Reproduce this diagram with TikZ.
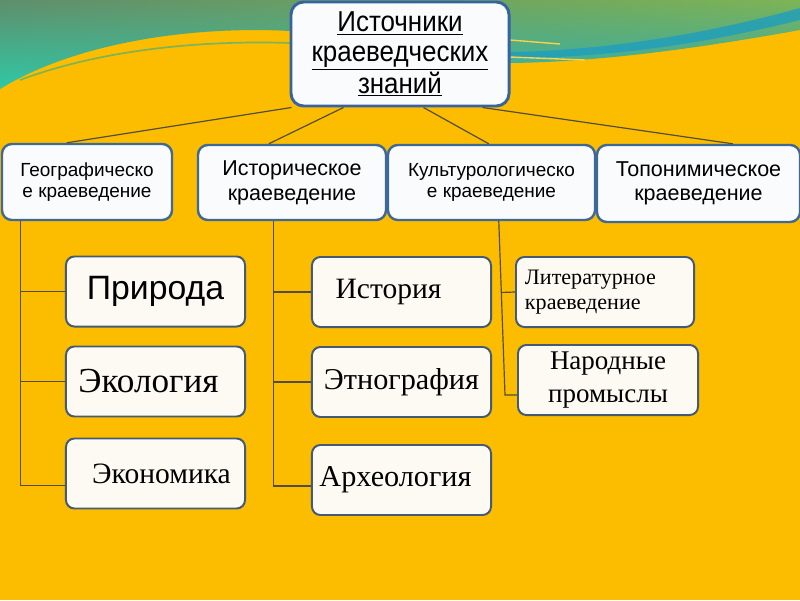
\documentclass[tikz,border=0pt]{standalone}
\usepackage{fontspec}
\setmainfont{Liberation Serif}
\setsansfont{Liberation Sans}
\newfontfamily\narrowsans[FakeStretch=0.9]{Liberation Sans}
\usetikzlibrary{positioning, calc, shadings}

\definecolor{bgorange}{RGB}{252,188,0}
\definecolor{bandUL}{RGB}{95,142,108}
\definecolor{bandLL}{RGB}{48,200,165}
\definecolor{bandUR}{RGB}{125,180,85}
\definecolor{bandLR}{RGB}{45,170,180}
\definecolor{streak}{RGB}{30,158,190}
\definecolor{srcedge}{RGB}{55,100,160}
\definecolor{secedge}{RGB}{62,105,148}
\definecolor{leafedge}{RGB}{68,92,115}
\definecolor{leaffill}{RGB}{252,250,242}
\definecolor{secfill}{RGB}{249,251,252}
\definecolor{linkcol}{RGB}{82,78,52}

\begin{document}
\begin{tikzpicture}[
  x=0.025cm, y=-0.025cm,
  every node/.style={font=\sffamily, text=black},
  src/.style    = {draw=srcedge, fill=secfill, line width=2.1pt, rounded corners=9pt, align=center,
                   minimum width=5.45cm, minimum height=2.6cm, inner sep=0pt,
                   font={\narrowsans\fontsize{20.5pt}{21.3pt}\selectfont}},
  sect/.style   = {draw=secedge, fill=secfill, line width=1.7pt, rounded corners=7pt, align=center,
                   minimum height=1.9cm, inner sep=0pt},
  leaf/.style   = {draw=leafedge, fill=leaffill, line width=1.4pt, rounded corners=6pt, align=center,
                   minimum width=4.475cm, minimum height=1.75cm, inner sep=0pt},
  link/.style   = {draw=linkcol, line width=0.85pt},
]
  \useasboundingbox (0,0) rectangle (800,600);

  % background: orange field with the green-teal band on top
  \fill[bgorange] (0,0) rectangle (800,600);
  \shade[upper left=bandUL, lower left=bandLL, upper right=bandUR, lower right=bandLR]
    (0,0) -- (800,0) -- (800,30) .. controls (700,48) and (600,62) .. (510,63)
    -- (290,31) .. controls (200,26) and (80,40) .. (0,89) -- cycle;
  \fill[streak, opacity=0.8] (510,52) .. controls (620,50) and (720,30) .. (800,8)
    -- (800,20) .. controls (720,40) and (620,58) .. (510,58) -- cycle;
  \draw[bandUR, line width=1.2pt] (20,80) .. controls (100,50) and (200,40) .. (290,43);
  \draw[bgorange!70!white, line width=1pt] (510,40) -- (560,44);
  \draw[bgorange!70!white, line width=1pt] (510,57) -- (585,60);

  % root
  \node[src] (root) at (400,54) {\underline{Источники}\\\underline{краеведческих}\\\underline{знаний}};

  % second row
  \node[sect, minimum width=4.25cm, font={\sffamily\fontsize{13.5pt}{15pt}\selectfont}]
    (geo)  at (87,182)    {Географическо\\е краеведение};
  \node[sect, minimum width=4.7cm, minimum height=1.875cm, font={\sffamily\fontsize{15.3pt}{17.8pt}\selectfont}]
    (hist) at (292,182.5) {Историческое\\краеведение};
  \node[sect, minimum width=5.175cm, minimum height=1.875cm, font={\sffamily\fontsize{13.5pt}{14.5pt}\selectfont}]
    (cult) at (491.5,182.5) {Культурологическо\\е краеведение};
  \node[sect, minimum width=5.075cm, minimum height=1.925cm, font={\sffamily\fontsize{15.3pt}{17pt}\selectfont}]
    (topo) at (698.5,183.5) {Топонимическое\\краеведение};

  % geographic leaves
  \node[leaf, font={\sffamily\fontsize{24pt}{26pt}\selectfont}] (nature) at (155.5,291.5) {Природа};
  \node[leaf, below=0.45cm of nature, font={\rmfamily\fontsize{25pt}{27pt}\selectfont}] (ecol) {Экология\hspace*{0.35cm}};
  \node[leaf, below=0.5cm of ecol, font={\rmfamily\fontsize{21pt}{24pt}\selectfont}] (econ) {\hspace*{0.3cm}Экономика};

  % historical leaves
  \node[leaf, font={\rmfamily\fontsize{21pt}{24pt}\selectfont}] (hstry) at (401.5,292) {История\hspace*{0.65cm}};
  \node[leaf, below=0.45cm of hstry, font={\rmfamily\fontsize{21.5pt}{24pt}\selectfont}] (ethno) {Этнография\\[-0.7cm]};
  \node[leaf, below=0.65cm of ethno, font={\rmfamily\fontsize{21.5pt}{24pt}\selectfont}] (archeo) {Археология\hspace*{0.3cm}};

  % cultural leaves
  \node[leaf, minimum width=4.45cm, align=left, text width=4.0cm, inner xsep=0.225cm,
        font={\rmfamily\fontsize{15.7pt}{17.8pt}\selectfont}] (lit) at (605,292) {Литературное\\краеведение};
  \node[leaf, minimum width=4.5cm, font={\rmfamily\fontsize{19.2pt}{22.8pt}\selectfont}]
    (craft) at (608,380) {Народные\\промыслы};

  % root to sections
  \draw[link] ($(root.south west)+(2,0)$)   -- ($(geo.north west)+(66,0)$);
  \draw[link] ($(root.south west)+(54,0)$)  -- ($(hist.north west)+(72,0)$);
  \draw[link] ($(root.south west)+(134,0)$) -- ($(cult.north west)+(102,0)$);
  \draw[link] ($(root.south east)+(-28,0)$) -- ($(topo.north west)+(137,0)$);

  % trunks with branches
  \draw[link] ($(geo.south west)+(20,0)$) coordinate (gtrunk) |- ($(econ.west)+(0,12)$);
  \foreach \n in {nature, ecol}
    \draw[link] (gtrunk |- \n.west) -- (\n.west);

  \draw[link] ($(hist.south west)+(77,0)$) coordinate (htrunk) |- ($(archeo.west)+(0,6)$);
  \foreach \n in {hstry, ethno}
    \draw[link] (htrunk |- \n.west) -- (\n.west);

  \draw[link] ($(cult.south west)+(112,0)$) coordinate (ctop)
    -- ($(craft.west)+(-12,15)$) coordinate (cbot) -- ($(craft.west)+(0,15)$);
  \draw[link] ($(ctop)!0.41!(cbot)$) -- (lit.west);
\end{tikzpicture}
\end{document}
